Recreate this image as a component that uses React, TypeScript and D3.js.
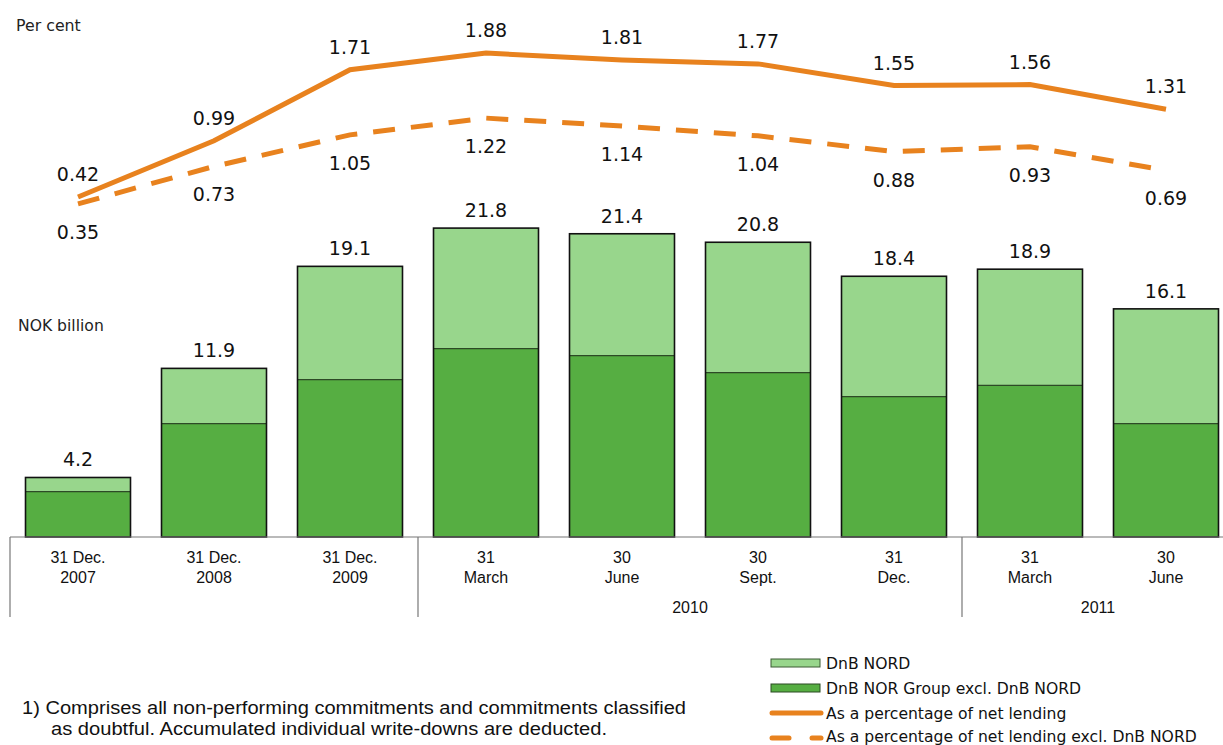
import React from "react";
import * as d3 from "d3";

const catLine1 = ["31 Dec.", "31 Dec.", "31 Dec.", "31", "30", "30", "31", "31", "30"];
const catLine2 = ["2007", "2008", "2009", "March", "June", "Sept.", "Dec.", "March", "June"];
const excl = [3.2, 8.0, 11.1, 13.3, 12.8, 11.6, 9.9, 10.7, 8.0];
const nord = [1.0, 3.9, 8.0, 8.5, 8.6, 9.2, 8.5, 8.2, 8.1];
const totals = [4.2, 11.9, 19.1, 21.8, 21.4, 20.8, 18.4, 18.9, 16.1];
const pctAll = [0.42, 0.99, 1.71, 1.88, 1.81, 1.77, 1.55, 1.56, 1.31];
const pctExcl = [0.35, 0.73, 1.05, 1.22, 1.14, 1.04, 0.88, 0.93, 0.69];
const groups = [
  { label: "2010", from: 3, to: 6 },
  { label: "2011", from: 7, to: 8 },
];

const W = 1223;
const H = 745;
const LIGHT = "#98D68C";
const DARK = "#56AE42";
const ORANGE = "#E8821E";
const FONT = "'DejaVu Sans', Verdana, sans-serif";
const CATFONT = "'Liberation Sans', Arial, sans-serif";

export default function App() {
  const idx = d3.range(catLine1.length).map(String);
  const x = d3.scaleBand().domain(idx).range([10, 1234]).paddingInner(0.228).paddingOuter(0.114);
  const base = 537;
  const yb = d3.scaleLinear().domain([0, 25]).range([base, base - 25 * 14.17]);
  const yl = d3.scaleLinear().domain([0, 2]).range([238.4, 238.4 - 2 * 98.6]);
  const cx = (i: number) => (x(String(i)) as number) + x.bandwidth() / 2;
  const line = d3.line<number>().x((_, i) => cx(i)).y((d) => yl(d));
  const step = x.step();
  const bandStart = (i: number) => (x(String(i)) as number) - (step - x.bandwidth()) / 2;

  return (
    <svg width={W} height={H} style={{ position: "absolute", left: 0, top: 0, background: "#fff" }}>
      <text x={16} y={31} fontFamily={FONT} fontSize={15.8} fill="#222">Per cent</text>
      <text x={18} y={331} fontFamily={FONT} fontSize={15.6} fill="#222">NOK billion</text>

      {excl.map((v, i) => {
        const x0 = x(String(i)) as number;
        const bw = x.bandwidth();
        return (
          <g key={i}>
            <rect x={x0} y={yb(v)} width={bw} height={base - yb(v)} fill={DARK} />
            <rect x={x0} y={yb(v + nord[i])} width={bw} height={yb(v) - yb(v + nord[i])} fill={LIGHT} />
            <line x1={x0} x2={x0 + bw} y1={yb(v)} y2={yb(v)} stroke="#2d4a26" strokeWidth={1.2} />
            <rect x={x0} y={yb(v + nord[i])} width={bw} height={base - yb(v + nord[i])} fill="none" stroke="#111" strokeWidth={1.6} />
            <text x={cx(i)} y={yb(totals[i]) - 11} textAnchor="middle" fontFamily={FONT} fontSize={19} fill="#111">
              {totals[i].toFixed(1)}
            </text>
          </g>
        );
      })}

      <path d={line(pctAll) || ""} fill="none" stroke={ORANGE} strokeWidth={5} />
      <path d={line(pctExcl) || ""} fill="none" stroke={ORANGE} strokeWidth={5} strokeDasharray="22,16" />
      {pctAll.map((v, i) => (
        <text key={"a" + i} x={cx(i)} y={yl(v) - 16} textAnchor="middle" fontFamily={FONT} fontSize={19} fill="#111">
          {v.toFixed(2)}
        </text>
      ))}
      {pctExcl.map((v, i) => (
        <text key={"e" + i} x={cx(i)} y={yl(v) + 35} textAnchor="middle" fontFamily={FONT} fontSize={19} fill="#111">
          {v.toFixed(2)}
        </text>
      ))}

      <line x1={10} x2={W} y1={base} y2={base} stroke="#777" strokeWidth={1.2} />
      {[0, 3, 7].map((i) => (
        <line key={"v" + i} x1={bandStart(i)} x2={bandStart(i)} y1={base} y2={617} stroke="#777" strokeWidth={1.2} />
      ))}
      {catLine1.map((c, i) => (
        <g key={"c" + i}>
          <text x={cx(i)} y={563} textAnchor="middle" fontFamily={CATFONT} fontSize={16} fill="#111">{c}</text>
          <text x={cx(i)} y={583} textAnchor="middle" fontFamily={CATFONT} fontSize={16} fill="#111">{catLine2[i]}</text>
        </g>
      ))}
      {groups.map((g) => (
        <text key={g.label} x={(bandStart(g.from) + bandStart(g.to) + step) / 2} y={613} textAnchor="middle" fontFamily={CATFONT} fontSize={16} fill="#111">
          {g.label}
        </text>
      ))}

      <text x={22} y={714} fontFamily={CATFONT} fontSize={17.5} fill="#111" textLength={664} lengthAdjust="spacingAndGlyphs">1) Comprises all non-performing commitments and commitments classified</text>
      <text x={51} y={735} fontFamily={CATFONT} fontSize={17.5} fill="#111" textLength={556} lengthAdjust="spacingAndGlyphs">as doubtful. Accumulated individual write-downs are deducted.</text>

      <g fontFamily={FONT} fontSize={15.6} fill="#111">
        <rect x={771} y={659} width={49} height={8} fill={LIGHT} stroke="#3a5a33" strokeWidth={1} />
        <text x={826} y={669}>DnB NORD</text>
        <rect x={771} y={684} width={49} height={8} fill={DARK} stroke="#2a4a22" strokeWidth={1} />
        <text x={826} y={694}>DnB NOR Group excl. DnB NORD</text>
        <line x1={772} x2={821} y1={713} y2={713} stroke={ORANGE} strokeWidth={5} strokeLinecap="round" />
        <text x={826} y={719}>As a percentage of net lending</text>
        <line x1={772} x2={789} y1={738} y2={738} stroke={ORANGE} strokeWidth={5} strokeLinecap="round" />
        <line x1={812} x2={821} y1={738} y2={738} stroke={ORANGE} strokeWidth={5} strokeLinecap="round" />
        <text x={826} y={742}>As a percentage of net lending excl. DnB NORD</text>
      </g>
    </svg>
  );
}
